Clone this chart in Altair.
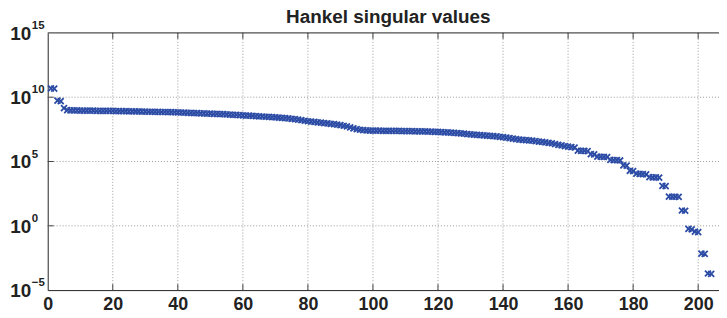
import altair as alt
import pandas as pd

# log10 of the Hankel singular values (index 1..204)
log_sv = [
    10.68, 10.66, 9.73, 9.70, 9.15, 9.00, 8.98, 8.97, 8.97, 8.96,
    8.96, 8.95, 8.95, 8.95, 8.94, 8.94, 8.94, 8.93, 8.93, 8.93,
    8.92, 8.92, 8.91, 8.91, 8.90, 8.90, 8.89, 8.89, 8.88, 8.88,
    8.87, 8.87, 8.86, 8.86, 8.85, 8.85, 8.84, 8.84, 8.83, 8.82,
    8.81, 8.80, 8.79, 8.78, 8.77, 8.76, 8.75, 8.74, 8.73, 8.72,
    8.71, 8.70, 8.69, 8.68, 8.66, 8.65, 8.63, 8.62, 8.60, 8.58,
    8.57, 8.56, 8.54, 8.53, 8.51, 8.50, 8.48, 8.47, 8.45, 8.44,
    8.42, 8.40, 8.38, 8.35, 8.32, 8.29, 8.25, 8.21, 8.17, 8.13,
    8.10, 8.08, 8.05, 8.02, 7.99, 7.96, 7.93, 7.90, 7.86, 7.83,
    7.78, 7.73, 7.66, 7.58, 7.52, 7.47, 7.44, 7.42, 7.41, 7.40,
    7.40, 7.40, 7.39, 7.39, 7.39, 7.38, 7.38, 7.38, 7.37, 7.37,
    7.36, 7.36, 7.35, 7.35, 7.34, 7.34, 7.33, 7.32, 7.31, 7.30,
    7.29, 7.27, 7.26, 7.24, 7.22, 7.20, 7.18, 7.16, 7.13, 7.11,
    7.09, 7.07, 7.05, 7.03, 7.01, 6.99, 6.97, 6.95, 6.92, 6.90,
    6.86, 6.82, 6.78, 6.74, 6.70, 6.68, 6.66, 6.64, 6.62, 6.59,
    6.55, 6.52, 6.49, 6.45, 6.42, 6.36, 6.30, 6.26, 6.20, 6.15,
    6.12, 6.09, 5.84, 5.83, 5.82, 5.81, 5.57, 5.55, 5.38, 5.37,
    5.36, 5.35, 5.12, 5.11, 5.10, 5.08, 4.70, 4.68, 4.28, 4.26,
    4.05, 4.03, 4.02, 4.00, 3.78, 3.77, 3.76, 3.75, 3.10, 3.08,
    2.27, 2.26, 2.26, 2.25, 1.19, 1.17, -0.24, -0.27, -0.46, -0.49,
    -2.16, -2.18, -3.71, -3.74,
]
indices = list(range(1, len(log_sv) + 1))

x_ticks = [0, 20, 40, 60, 80, 100, 120, 140, 160, 180, 200]
x_inner = [20, 40, 60, 80, 100, 120, 140, 160, 180, 200]
y_exps = [-5, 0, 5, 10, 15]
y_exp_labels = ["\u22125", "0", "5", "10", "15"]
y_inner = [0, 5, 10]
title_text = "Hankel singular values"

W, H = 676, 259
FONT = "Liberation Sans"
BLUE = "#2B4BA5"
GRIDC = "#9a9a9a"

df = pd.DataFrame({"idx": indices, "sv": [10 ** v for v in log_sv]})
xgrid = pd.DataFrame({"idx": x_inner})
ygrid = pd.DataFrame({"sv": [10.0 ** e for e in y_inner]})
ylab = pd.DataFrame({"sv": [10.0 ** e for e in y_exps], "base": ["10"] * len(y_exps), "exp": y_exp_labels})

xs = alt.Scale(domain=[0, 206.4], nice=False, zero=False)
ys = alt.Scale(type="log", domain=[1e-5, 1e15], nice=False)

xaxis = alt.Axis(values=x_ticks, grid=False, ticks=False, tickSize=0, domain=True,
                 domainColor="#222", domainWidth=1, labelFont=FONT, labelFontSize=18,
                 labelFontWeight="bold", labelColor="#222", labelPadding=6, labelFlush=False,
                 title=None)
yaxis = alt.Axis(values=[10.0 ** e for e in y_exps], grid=False, ticks=False, labels=False,
                 domain=True, domainColor="#222", domainWidth=1, title=None)


def X(field="idx"):
    return alt.X(f"{field}:Q", scale=xs, axis=xaxis, title=None)


def Y(field="sv"):
    return alt.Y(f"{field}:Q", scale=ys, axis=yaxis, title=None)


vgrid = alt.Chart(xgrid).mark_rule(color=GRIDC, strokeDash=[1, 2], strokeWidth=1).encode(
    x=X(), y=alt.value(0), y2=alt.value(H))
hgrid = alt.Chart(ygrid).mark_rule(color=GRIDC, strokeDash=[1, 2], strokeWidth=1).encode(
    y=Y(), x=alt.value(0), x2=alt.value(W))

bt = alt.Chart(xgrid).mark_rule(color="#444", strokeWidth=1).encode(
    x=X(), y=alt.value(H), y2=alt.value(H - 6))
tt = alt.Chart(xgrid).mark_rule(color="#444", strokeWidth=1).encode(
    x=X(), y=alt.value(0), y2=alt.value(6))
lt = alt.Chart(ygrid).mark_rule(color="#444", strokeWidth=1).encode(
    y=Y(), x=alt.value(0), x2=alt.value(6))
top = alt.Chart(ygrid.head(1)).mark_rule(color="#222", strokeWidth=1).encode(
    y=alt.value(0), x=alt.value(0), x2=alt.value(W))

pts = alt.Chart(df).mark_point(
    shape="M-1,-1L1,1M-1,1L1,-1", filled=False, size=36, strokeWidth=1.8, color=BLUE, opacity=1
).encode(x=X(), y=Y())

base_lab = alt.Chart(ylab).mark_text(font=FONT, fontSize=19, fontWeight="bold", color="#222",
                                     align="right", baseline="alphabetic", dy=7).encode(
    y=Y(), x=alt.value(-16.5), text="base:N")
exp_lab = alt.Chart(ylab).mark_text(font=FONT, fontSize=11.5, fontWeight="bold", color="#222",
                                    align="left", baseline="alphabetic", dy=-4).encode(
    y=Y(), x=alt.value(-16), text="exp:N")

ttl = alt.Chart(pd.DataFrame({"t": [title_text]})).mark_text(
    font=FONT, fontSize=19, fontWeight="bold", color="#222", align="center", baseline="alphabetic"
).encode(text="t:N", x=alt.value(343), y=alt.value(-9.5))

chart = alt.layer(vgrid, hgrid, bt, tt, lt, top, pts, base_lab, exp_lab, ttl).properties(
    width=W, height=H,
    autosize=alt.AutoSizeParams(type="none"),
    padding={"left": 40, "top": 24, "right": 0, "bottom": 26},
).configure_view(stroke=None)

chart.save("out.html", embed_options={"renderer": "svg", "actions": False})
